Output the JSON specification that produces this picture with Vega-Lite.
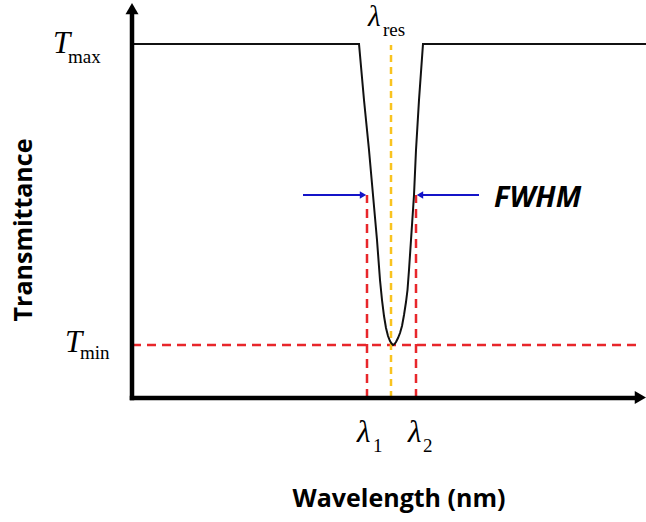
{
  "$schema": "https://vega.github.io/schema/vega-lite/v6.json",
  "width": 514,
  "height": 398,
  "autosize": {"type": "none"},
  "padding": {"left": 132, "top": 0, "right": 0, "bottom": 124},
  "background": "white",
  "config": {"view": {"stroke": null}},
  "datasets": {
    "axes": [
      {"x": 0, "y": 0, "x2": 0, "y2": 384},
      {"x": 0, "y": 0, "x2": 505, "y2": 0}
    ],
    "curve": [
      {"i": 0, "x": 0, "y": 354},
      {"i": 1, "x": 227, "y": 354},
      {"i": 2, "x": 232, "y": 298},
      {"i": 3, "x": 237, "y": 248},
      {"i": 4, "x": 241, "y": 203},
      {"i": 5, "x": 245, "y": 158},
      {"i": 6, "x": 248, "y": 118},
      {"i": 7, "x": 250, "y": 98},
      {"i": 8, "x": 252, "y": 82},
      {"i": 9, "x": 254, "y": 70},
      {"i": 10, "x": 256, "y": 62},
      {"i": 11, "x": 258, "y": 57},
      {"i": 12, "x": 259.5, "y": 54.5},
      {"i": 13, "x": 261, "y": 53},
      {"i": 14, "x": 262.5, "y": 54},
      {"i": 15, "x": 264, "y": 56},
      {"i": 16, "x": 266, "y": 60},
      {"i": 17, "x": 268, "y": 65},
      {"i": 18, "x": 270, "y": 72},
      {"i": 19, "x": 272, "y": 83},
      {"i": 20, "x": 274, "y": 96},
      {"i": 21, "x": 275.5, "y": 108},
      {"i": 22, "x": 277, "y": 128},
      {"i": 23, "x": 279, "y": 158},
      {"i": 24, "x": 282, "y": 203},
      {"i": 25, "x": 284, "y": 248},
      {"i": 26, "x": 287, "y": 298},
      {"i": 27, "x": 291, "y": 354},
      {"i": 28, "x": 514, "y": 354}
    ],
    "redLines": [
      {"x": 0, "y": 53, "x2": 504, "y2": 53},
      {"x": 235, "y": 0, "x2": 235, "y2": 203},
      {"x": 284, "y": 0, "x2": 284, "y2": 203}
    ],
    "resLine": [
      {"x": 259, "y": 0, "x2": 259, "y2": 353}
    ],
    "blueLines": [
      {"x": 171, "y": 203, "x2": 231, "y2": 203},
      {"x": 347, "y": 203, "x2": 288, "y2": 203}
    ],
    "yHead": [{"x": 0, "y": 389.4}],
    "xHead": [{"x": 508.4, "y": 0.5}],
    "blueRightHead": [{"x": 231, "y": 203}],
    "blueLeftHead": [{"x": 288, "y": 203}],
    "symbols": [
      {"t": "T", "x": -79, "y": 345},
      {"t": "T", "x": -67, "y": 46},
      {"t": "λ", "x": 225, "y": -44},
      {"t": "λ", "x": 276, "y": -44}
    ],
    "resSymbol": [
      {"t": "λ", "x": 236, "y": 372}
    ],
    "subscripts": [
      {"t": "max", "x": -64, "y": 335},
      {"t": "min", "x": -52, "y": 39},
      {"t": "res", "x": 251, "y": 362},
      {"t": "1", "x": 241, "y": -54},
      {"t": "2", "x": 291, "y": -54}
    ],
    "fwhm": [{"t": "FWHM", "x": 362, "y": 191}],
    "xTitle": [{"t": "Wavelength (nm)", "x": 267, "y": -109}],
    "yTitle": [{"t": "Transmittance", "x": -108, "y": 168}]
  },
  "encoding": {
    "x": {"field": "x", "type": "quantitative", "scale": {"domain": [0, 514], "nice": false, "zero": false}, "axis": null},
    "y": {"field": "y", "type": "quantitative", "scale": {"domain": [0, 398], "nice": false, "zero": false}, "axis": null}
  },
  "layer": [
    {
      "data": {"name": "redLines"},
      "mark": {"type": "rule", "color": "#E8262B", "strokeWidth": 2.5, "strokeDash": [9, 6]},
      "encoding": {"x2": {"field": "x2"}, "y2": {"field": "y2"}}
    },
    {
      "data": {"name": "resLine"},
      "mark": {"type": "rule", "color": "#F9C31F", "strokeWidth": 2.5, "strokeDash": [7, 5]},
      "encoding": {"x2": {"field": "x2"}, "y2": {"field": "y2"}}
    },
    {
      "data": {"name": "curve"},
      "mark": {"type": "line", "color": "#111111", "strokeWidth": 2, "interpolate": "linear"},
      "encoding": {"order": {"field": "i", "type": "quantitative"}}
    },
    {
      "data": {"name": "axes"},
      "mark": {"type": "rule", "color": "black", "strokeWidth": 4.5, "strokeCap": "square"},
      "encoding": {"x2": {"field": "x2"}, "y2": {"field": "y2"}}
    },
    {
      "data": {"name": "yHead"},
      "mark": {"type": "point", "shape": "triangle-up", "size": 169, "filled": true, "color": "black", "opacity": 1}
    },
    {
      "data": {"name": "xHead"},
      "mark": {"type": "point", "shape": "triangle-right", "size": 169, "filled": true, "color": "black", "opacity": 1}
    },
    {
      "data": {"name": "blueLines"},
      "mark": {"type": "rule", "color": "#1414C8", "strokeWidth": 2},
      "encoding": {"x2": {"field": "x2"}, "y2": {"field": "y2"}}
    },
    {
      "data": {"name": "blueRightHead"},
      "mark": {"type": "point", "shape": "triangle-right", "size": 55, "filled": true, "color": "#1414C8", "opacity": 1}
    },
    {
      "data": {"name": "blueLeftHead"},
      "mark": {"type": "point", "shape": "triangle-left", "size": 55, "filled": true, "color": "#1414C8", "opacity": 1}
    },
    {
      "data": {"name": "symbols"},
      "mark": {"type": "text", "font": "Liberation Serif", "fontStyle": "italic", "fontSize": 31, "align": "left", "baseline": "alphabetic", "color": "black"},
      "encoding": {"text": {"field": "t"}}
    },
    {
      "data": {"name": "resSymbol"},
      "mark": {"type": "text", "font": "Liberation Serif", "fontStyle": "italic", "fontSize": 29, "align": "left", "baseline": "alphabetic", "color": "black"},
      "encoding": {"text": {"field": "t"}}
    },
    {
      "data": {"name": "subscripts"},
      "mark": {"type": "text", "font": "Liberation Serif", "fontSize": 19, "align": "left", "baseline": "alphabetic", "color": "black"},
      "encoding": {"text": {"field": "t"}}
    },
    {
      "data": {"name": "fwhm"},
      "mark": {"type": "text", "font": "Open Sans", "fontStyle": "italic", "fontWeight": "bold", "fontSize": 29, "align": "left", "baseline": "alphabetic", "color": "black"},
      "encoding": {"text": {"field": "t"}}
    },
    {
      "data": {"name": "xTitle"},
      "mark": {"type": "text", "font": "Open Sans", "fontWeight": "bold", "fontSize": 25, "align": "center", "baseline": "alphabetic", "color": "black"},
      "encoding": {"text": {"field": "t"}}
    },
    {
      "data": {"name": "yTitle"},
      "mark": {"type": "text", "font": "Open Sans", "fontWeight": "bold", "fontSize": 25, "angle": 270, "align": "center", "baseline": "middle", "color": "black"},
      "encoding": {"text": {"field": "t"}}
    }
  ]
}
